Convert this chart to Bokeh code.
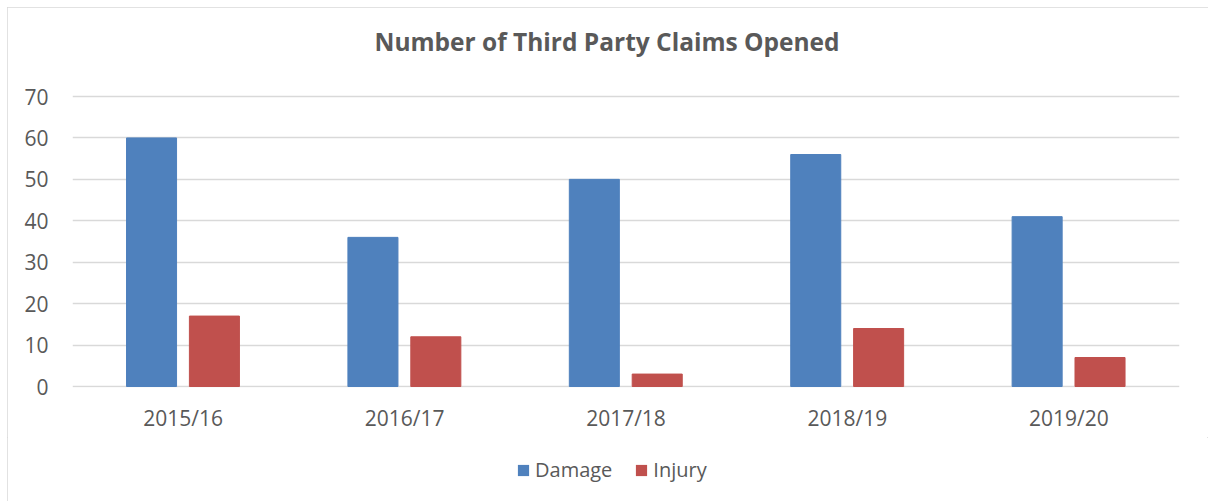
from bokeh.plotting import figure
from bokeh.layouts import column
from bokeh.models import ColumnDataSource, FactorRange, Legend, LegendItem, Range1d, FixedTicker
from bokeh.transform import dodge
from bokeh.embed import file_html
from bokeh.resources import INLINE

years = ["2015/16", "2016/17", "2017/18", "2018/19", "2019/20"]
damage = [60, 36, 50, 56, 41]
injury = [17, 12, 3, 14, 7]
y_ticks = [0, 10, 20, 30, 40, 50, 60, 70]
series_names = ["Damage", "Injury"]

TEXT = "#595959"
GRID = "#D9D9D9"
BLUE = "#4F81BD"
RED = "#C0504D"
FONT = "Open Sans"

src = ColumnDataSource(dict(year=years, damage=damage, injury=injury))

p = figure(width=1201, height=430, output_backend="svg", toolbar_location=None,
           x_range=FactorRange(factors=years, range_padding=0),
           y_range=Range1d(-0.24, 77.0),
           min_border_left=65, min_border_right=29, min_border_top=60, min_border_bottom=50)

p.title.text = "Number of Third Party Claims Opened"
p.title.align = "left"
p.title.text_font = FONT
p.title.text_font_style = "bold"
p.title.text_font_size = "24.5px"
p.title.text_color = TEXT
p.title.standoff = 20
p.title.offset = 302

p.vbar(x=dodge("year", -0.143, range=p.x_range), top="damage", width=0.226,
       source=src, fill_color=BLUE, line_color=BLUE)
p.vbar(x=dodge("year", 0.141, range=p.x_range), top="injury", width=0.226,
       source=src, fill_color=RED, line_color=RED)

p.outline_line_color = None
p.xgrid.grid_line_color = None
p.ygrid.grid_line_color = GRID
p.ygrid.grid_line_width = 1.3
p.yaxis.ticker = FixedTicker(ticks=y_ticks)

for ax in (p.xaxis[0], p.yaxis[0]):
    ax.axis_line_color = None
    ax.major_tick_line_color = None
    ax.minor_tick_line_color = None
    ax.major_label_text_font = FONT
    ax.major_label_text_font_size = "21px"
    ax.major_label_text_color = TEXT
p.yaxis.major_label_standoff = 18
p.xaxis.major_label_standoff = 10

# legend strip below the chart (its key renderers have zero width and no outline,
# so they draw nothing in the strip itself)
lg = figure(width=1201, height=64, output_backend="svg", toolbar_location=None,
            x_range=p.x_range, y_range=Range1d(-2, -1),
            x_axis_type=None, y_axis_type=None,
            min_border_left=0, min_border_right=0, min_border_top=0, min_border_bottom=0)
lg.outline_line_color = None
lg.xgrid.grid_line_color = None
lg.ygrid.grid_line_color = None
k1 = lg.vbar(x="year", top="damage", width=0, source=src,
             fill_color=BLUE, line_color=None)
k2 = lg.vbar(x="year", top="injury", width=0, source=src,
             fill_color=RED, line_color=None)
legend = Legend(items=[LegendItem(label=series_names[0], renderers=[k1]),
                       LegendItem(label=series_names[1], renderers=[k2])],
                orientation="horizontal", location=(444, 18),
                label_text_font=FONT, label_text_font_size="20px", label_text_color=TEXT,
                glyph_width=14, glyph_height=14, spacing=22, label_standoff=5,
                border_line_color=None, background_fill_alpha=0, margin=0, padding=0)
lg.add_layout(legend, "center")

layout = column(p, lg, spacing=0,
                styles={"margin-left": "7px", "margin-top": "7px",
                        "box-shadow": "inset 1px 1px 0 0 #D9D9D9, inset -1px 0 0 0 #D9D9D9"})

open("out.html", "w").write(file_html(layout, INLINE))
